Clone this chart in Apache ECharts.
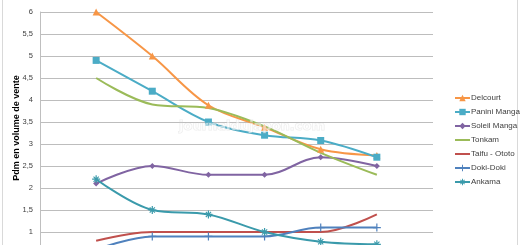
<!DOCTYPE html>
<html><head><meta charset="utf-8">
<script src="https://cdn.jsdelivr.net/npm/echarts@6/dist/echarts.min.js"></script>
<style>html,body{margin:0;padding:0;overflow:hidden;background:#fff;width:520px;height:245px}#c{width:520px;height:300px}</style>
</head><body><div id="c"></div>
<script>
const categories = ['', '2004', '2005', '2006', '2007', '2008', '2009', ''];
const delcourt = [null, 6, 5, 3.88, 3.38, 2.88, 2.74, null];
const panini   = [null, 4.9, 4.2, 3.5, 3.2, 3.08, 2.7, null];
const soleil   = [null, 2.1, 2.5, 2.3, 2.3, 2.7, 2.5, null];
const tonkam   = [null, 4.5, 3.9, 3.82, 3.4, 2.8, 2.3, null];
const taifu    = [null, 0.8, 1.0, 1.0, 1.0, 1.0, 1.4, null];
const doki     = [null, 0.6, 0.9, 0.9, 0.9, 1.1, 1.1, null];
const ankama   = [null, 2.2, 1.5, 1.4, 1.0, 0.78, 0.72, null];
const yTicks = [0, 0.5, 1, 1.5, 2, 2.5, 3, 3.5, 4, 4.5, 5, 5.5, 6];

const plusPath = 'path://M0,3.4H8V4.6H0Z M3.4,0H4.6V8H3.4Z';
const starPath = 'path://M0,3.4H8V4.6H0Z M3.4,0H4.6V8H3.4Z M1,1.8L1.8,1L7,6.2L6.2,7Z M6.2,1L7,1.8L1.8,7L1,6.2Z';

function mk(name, data, color, symbol, size) {
  return {
    name, type: 'line', data, smooth: 0.35, connectNulls: false,
    symbol: symbol || 'none', symbolSize: size || 6, showSymbol: !!symbol,
    lineStyle: { width: 2, color }, itemStyle: { color },
    emphasis: { disabled: true }
  };
}

const chart = echarts.init(document.getElementById('c'), null, { renderer: 'canvas' });
chart.setOption({
  animation: false,
  backgroundColor: '#fff',
  textStyle: { fontFamily: 'Liberation Sans, Arial, sans-serif' },
  grid: { left: 40, right: 87, top: 12, bottom: 24 },
  xAxis: {
    type: 'category', data: categories, boundaryGap: false,
    axisLine: { show: true, lineStyle: { color: '#bfbfbf' } },
    axisTick: { show: false }, axisLabel: { show: false }, splitLine: { show: false }
  },
  yAxis: {
    type: 'value', min: 0, max: 6, interval: 0.5,
    axisLine: { show: true, lineStyle: { color: '#bfbfbf' } },
    axisTick: { show: false },
    axisLabel: { fontSize: 7.5, color: '#404040', margin: 7,
      formatter: v => String(v).replace('.', ',') },
    splitLine: { lineStyle: { color: '#bdbdbd', width: 1 } }
  },
  legend: {
    orient: 'vertical', left: 449, top: 89, itemWidth: 15, itemHeight: 8, itemGap: 6,
    textStyle: { fontSize: 8, color: '#404040', padding: [0, 0, 0, -4] },
    data: ['Delcourt', 'Panini Manga', 'Soleil Manga',
      { name: 'Tonkam', itemStyle: { opacity: 0 } },
      { name: 'Taifu - Ototo', itemStyle: { opacity: 0 } },
      'Doki-Doki', 'Ankama']
  },
  graphic: [
    { type: 'rect', shape: { x: 2.5, y: -5, width: 515, height: 310 }, style: { fill: 'none', stroke: '#d9d9d9', lineWidth: 1 }, silent: true },
    { type: 'text', x: 17, y: 128, rotation: Math.PI / 2, style: { text: 'Pdm en volume de vente', font: 'bold 9px Liberation Sans, Arial, sans-serif', fill: '#000', align: 'center', verticalAlign: 'middle' } },
    { type: 'text', x: 252, y: 127, z: 100, style: { text: 'journaldujapon.com', font: 'bold 13px DejaVu Sans, sans-serif', fill: 'rgba(255,255,255,0.55)', stroke: 'rgba(200,200,200,0.35)', lineWidth: 1, align: 'center', verticalAlign: 'middle' } }
  ],
  series: [
    mk('Delcourt', delcourt, '#F79646', 'triangle', 7),
    mk('Panini Manga', panini, '#4BACC6', 'rect', 7),
    mk('Soleil Manga', soleil, '#8064A2', 'diamond', 6),
    mk('Tonkam', tonkam, '#9BBB59', null),
    mk('Taifu - Ototo', taifu, '#C0504D', null),
    mk('Doki-Doki', doki, '#4F81BD', plusPath, 8),
    mk('Ankama', ankama, '#3A9AAB', starPath, 8)
  ]
});
</script></body></html>
